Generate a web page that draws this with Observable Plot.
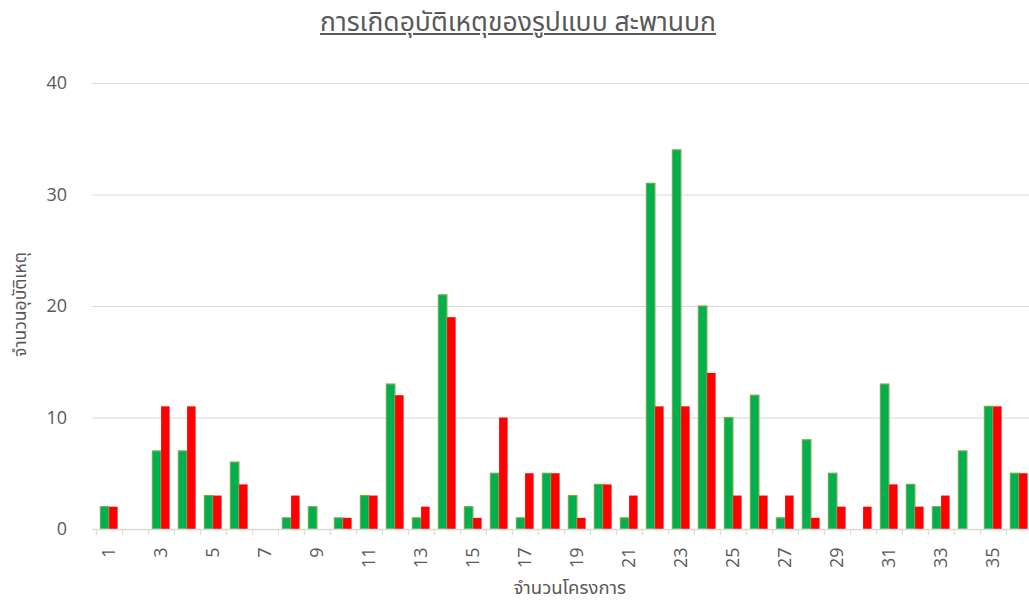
<!DOCTYPE html>
<html><head><meta charset="utf-8">
<script src="https://cdn.jsdelivr.net/npm/d3@7"></script>
<script src="https://cdn.jsdelivr.net/npm/@observablehq/plot@0.6"></script>
<style>
body{margin:0;background:#fff;overflow:hidden;}
#wrap{width:1029px;height:601px;overflow:hidden;position:relative;background:#fff;}
#title{width:1036px;height:50px;box-sizing:border-box;padding-top:6px;text-align:center;font-family:"Noto Sans Thai","Leelawadee UI",Tahoma,"DejaVu Sans","Open Sans",sans-serif;font-size:26.5px;line-height:34px;color:#595959;}
#title span{text-decoration:underline;text-underline-offset:2px;text-decoration-thickness:1.5px;}
#chart svg{max-width:none;}
</style></head><body>
<div id="wrap"><div id="title"><span>การเกิดอุบัติเหตุของรูปแบบ สะพานบก</span></div><div id="chart"></div></div>
<script>
const categories = [1,2,3,4,5,6,7,8,9,10,11,12,13,14,15,16,17,18,19,20,21,22,23,24,25,26,27,28,29,30,31,32,33,34,35,36];
const greenValues = [2,0,7,7,3,6,0,1,2,1,3,13,1,21,2,5,1,5,3,4,1,31,34,20,10,12,1,8,5,0,13,4,2,7,11,5];
const redValues = [2,0,11,11,3,4,0,3,0,1,3,12,2,19,1,10,5,5,1,4,3,11,11,14,3,3,3,1,2,2,4,2,3,0,11,5];
const yTicks = [0,10,20,30,40];
const xTickLabels = [1,3,5,7,9,11,13,15,17,19,21,23,25,27,29,31,33,35];

const table = categories.map((c, i) => ({cat: c, green: greenValues[i], red: redValues[i]}));
const thaiFont = '"Noto Sans Thai","Leelawadee UI",Tahoma,"DejaVu Sans","Open Sans",sans-serif';

const chart = Plot.plot({
  width: 1036, height: 551,
  marginLeft: 92.5, marginRight: 0, marginTop: 33, marginBottom: 72,
  style: {fontFamily: '"Open Sans",sans-serif', fontSize: "18px", color: "#595959", background: "white", maxWidth: "none"},
  x: {type: "band", domain: categories, padding: 0, label: null},
  y: {domain: [0, 40], label: null},
  marks: [
    Plot.gridY(yTicks, {stroke: "#d9d9d9", strokeOpacity: 1}),
    Plot.barY(table, {x: "cat", y: "green", fill: "#00B050", stroke: "#70AD47", strokeWidth: 1.2, insetLeft: 4.4, insetRight: 13.1}),
    Plot.barY(table, {x: "cat", y: "red", fill: "#FF0000", insetLeft: 13.1, insetRight: 4.4}),
    Plot.ruleY([0], {stroke: "#d9d9d9", strokeWidth: 1.5}),
    Plot.axisY({ticks: yTicks, tickSize: 0, tickPadding: 26, fontSize: 18, label: null}),
    Plot.axisX({ticks: categories, tickFormat: () => "", tickSize: 6, dx: -13.1, stroke: "#d9d9d9", strokeOpacity: 1, label: null}),
    Plot.axisX({ticks: xTickLabels, tickSize: 0, tickRotate: -90, tickPadding: 18, fontSize: 18, label: null}),
    Plot.text(["จำนวนอุบัติเหตุ"], {frameAnchor: "left", textAnchor: "middle", dx: -73, dy: -2, rotate: -90, fontSize: 17.5, fontFamily: thaiFont, fill: "#595959"}),
    Plot.text(["จำนวนโครงการ"], {frameAnchor: "bottom", dx: 5, dy: 64, fontSize: 18.5, fontFamily: thaiFont, fill: "#595959"})
  ]
});
document.getElementById("chart").appendChild(chart);
</script>
</body></html>
